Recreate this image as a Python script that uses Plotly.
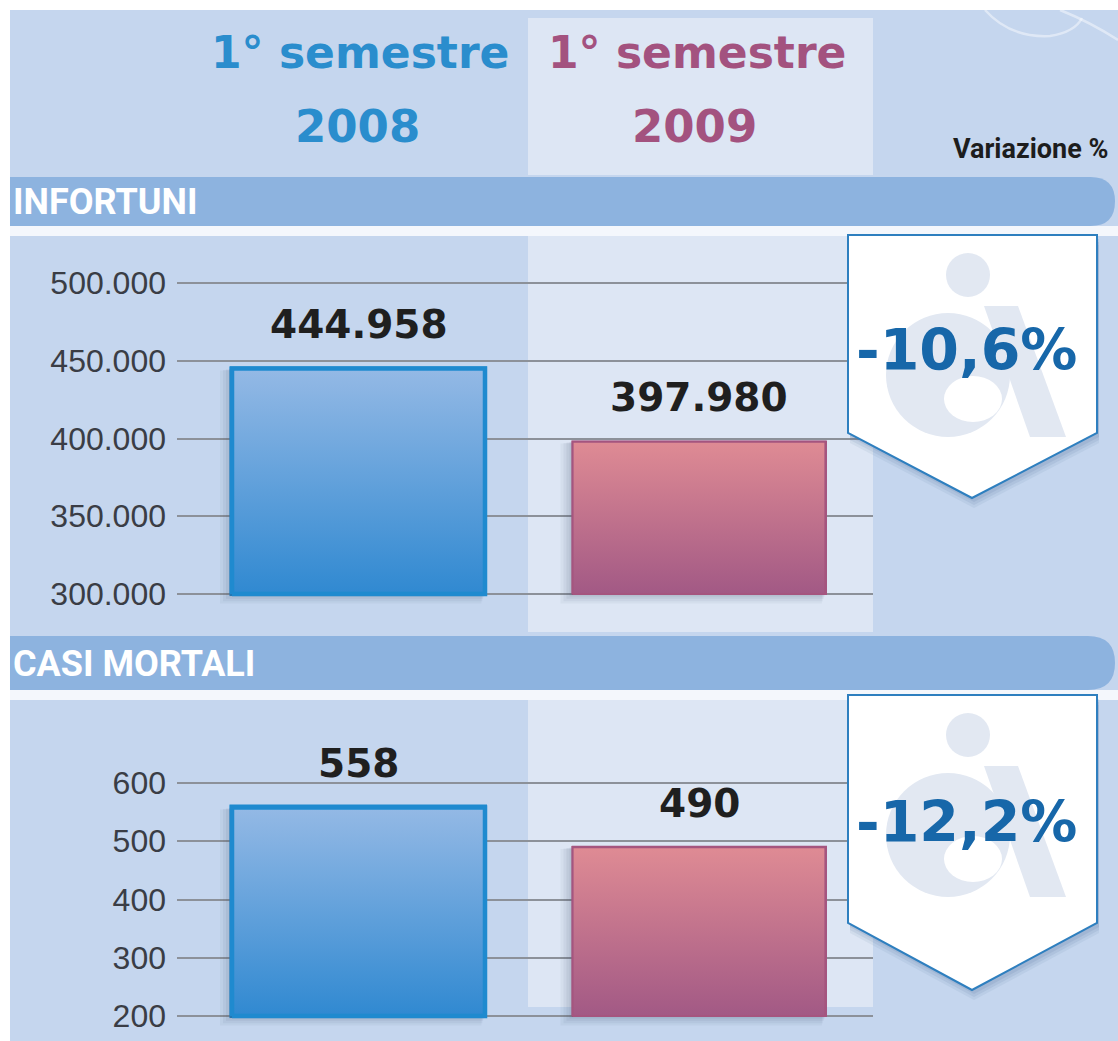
import plotly.graph_objects as go

# ---------------- data ----------------
years = ["2008", "2009"]
header_line = "1° semestre"
infortuni = [444958, 397980]
casi_mortali = [558, 490]
infortuni_ticks = [300000, 350000, 400000, 450000, 500000]
mortali_ticks = [200, 300, 400, 500, 600]
section_titles = ["INFORTUNI", "CASI MORTALI"]
variation_title = "Variazione %"

# ---------------- layout helpers (pixel -> paper) ----------------
W, H = 1118, 1041


def px(x):
    return x / W


def py(y):
    return 1 - y / H


def pt(x, y):
    return f"{px(x):.5f},{py(y):.5f}"


def poly(points):
    return "M " + " L ".join(pt(x, y) for x, y in points) + " Z"


def lin(pix, v0, p0, v1, p1):
    return v0 + (pix - p0) * (v1 - v0) / (p1 - p0)


BLUE_TXT = "#2a8dcd"
PURPLE_TXT = "#a3527f"
BG = "#c5d6ee"
BAND = "#dde6f4"
SECTION = "#8db3df"
GRID = "#8c9199"
BAR_TOP = ["#94b9e5", "#df8b94"]
BAR_BOT = ["#3089d1", "#a25985"]
BAR_LINE = ["#1f8acf", "#a5557f"]
BAR_LW = [4.5, 2.2]
PCT_COLOR = "#1767a9"

# x mapping: category index 0 -> 358.5px, 1 -> 699px
x_dom = [px(177), px(873)]
unit = 340.5
x_rng = [(177 - 358.5) / unit, (873 - 358.5) / unit]
bar_w = 253 / unit

panels = [
    dict(values=infortuni, ticks=infortuni_ticks, top=236, bot=632,
         ref=(infortuni_ticks[0], 594, infortuni_ticks[-1], 283)),
    dict(values=casi_mortali, ticks=mortali_ticks, top=700, bot=1036,
         ref=(mortali_ticks[0], 1016, mortali_ticks[-1], 783)),
]

fig = go.Figure()
annotations = []
shapes = []

for k, p in enumerate(panels):
    v0, p0, v1, p1 = p["ref"]
    y_rng = [lin(p["bot"], v0, p0, v1, p1), lin(p["top"], v0, p0, v1, p1)]
    vpp = (v1 - v0) / (p0 - p1)  # value units per pixel
    base = p["ticks"][0]
    xa = "x" if k == 0 else "x2"
    ya = "y" if k == 0 else "y2"
    # soft shadows (derived from the bar geometry)
    for i, v in enumerate(p["values"]):
        for off, alpha in [(12, 0.05), (9, 0.06), (6, 0.07), (3, 0.08)]:
            dx = off / unit
            dy = off * 0.8 * vpp
            xs = [i - bar_w / 2 - dx, i + bar_w / 2 - dx * 0.3, i + bar_w / 2 - dx * 0.3,
                  i - bar_w / 2 - dx, i - bar_w / 2 - dx]
            ys = [base - dy, base - dy, v - dy * 0.2, v - dy * 0.2, base - dy]
            fig.add_trace(go.Scatter(
                x=xs, y=ys, mode="lines", fill="toself",
                fillcolor=f"rgba(50,70,100,{alpha})", line=dict(width=0),
                hoverinfo="skip", showlegend=False, xaxis=xa, yaxis=ya))
    for i, v in enumerate(p["values"]):
        xs = [i - bar_w / 2, i + bar_w / 2, i + bar_w / 2, i - bar_w / 2, i - bar_w / 2]
        ys = [base, base, v, v, base]
        fig.add_trace(go.Scatter(
            x=xs, y=ys, mode="lines", fill="toself",
            line=dict(width=BAR_LW[i], color=BAR_LINE[i]),
            fillgradient=dict(type="vertical",
                              colorscale=[[0, BAR_BOT[i]], [1, BAR_TOP[i]]]),
            hoverinfo="skip", showlegend=False, xaxis=xa, yaxis=ya))
    for i, v in enumerate(p["values"]):
        fig.add_trace(go.Bar(
            x=[i], y=[v - base], base=base, width=bar_w, name=years[i],
            marker=dict(color="rgba(0,0,0,0)",
                        line=dict(color=BAR_LINE[i], width=BAR_LW[i])),
            showlegend=False, xaxis=xa, yaxis=ya,
            customdata=[v], hovertemplate="%{customdata}<extra></extra>"))
    ax_common = dict(showgrid=True, gridcolor=GRID, gridwidth=2, zeroline=False,
                     showline=False, ticks="", fixedrange=True)
    fig.update_layout(**{
        ("xaxis" if k == 0 else "xaxis2"): dict(domain=x_dom, range=x_rng, showgrid=False,
                                                 zeroline=False, showticklabels=False,
                                                 anchor=ya, fixedrange=True),
        ("yaxis" if k == 0 else "yaxis2"): dict(
            domain=[py(p["bot"]), py(p["top"])], range=y_rng, tickvals=p["ticks"],
            tickformat=",d", anchor=xa, ticklabelstandoff=10,
            tickfont=dict(family="Liberation Sans, Arial", size=32, color="#3a3d45"),
            **ax_common),
    })
    for i, v in enumerate(p["values"]):
        annotations.append(dict(
            x=i, y=v, xref=xa, yref=ya, text=f"{v:,}".replace(",", "."),
            showarrow=False, yanchor="middle", yshift=44,
            font=dict(family="DejaVu Sans", size=39, color="#1f1f1f", weight="bold")))

# ---------------- background shapes ----------------
shapes.append(dict(type="rect", xref="paper", yref="paper", layer="below",
                   x0=px(10), x1=px(1118), y0=py(1041), y1=py(10),
                   fillcolor=BG, line=dict(width=0)))
for path in [
    f"M {pt(985, 10)} Q {pt(1010, 38)} {pt(1050, 36)} Q {pt(1075, 32)} {pt(1082, 18)}",
    f"M {pt(1060, 10)} Q {pt(1090, 22)} {pt(1118, 40)}",
]:
    shapes.append(dict(type="path", path=path, xref="paper", yref="paper", layer="below",
                       line=dict(color="rgba(255,255,255,0.45)", width=2.5)))
shapes.append(dict(type="rect", xref="paper", yref="paper", layer="below",
                   x0=px(528), x1=px(873), y0=py(175), y1=py(18),
                   fillcolor=BAND, line=dict(width=0)))
for (t, b) in [(177, 226), (636, 690)]:
    r = (b - t) / 2
    path = (f"M {pt(10, t)} L {pt(1115 - r, t)} Q {pt(1115, t)} {pt(1115, t + r)} "
            f"Q {pt(1115, b)} {pt(1115 - r, b)} L {pt(10, b)} Z")
    shapes.append(dict(type="path", path=path, xref="paper", yref="paper", layer="below",
                       fillcolor=SECTION, line=dict(width=0)))
for (t, b) in [(226, 236), (690, 700)]:
    shapes.append(dict(type="rect", xref="paper", yref="paper", layer="below",
                       x0=px(10), x1=px(1118), y0=py(b), y1=py(t),
                       fillcolor="#f4f7fc", line=dict(width=0)))
for (t, b) in [(236, 632), (700, 1007)]:
    shapes.append(dict(type="rect", xref="paper", yref="paper", layer="below",
                       x0=px(528), x1=px(873), y0=py(b), y1=py(t),
                       fillcolor=BAND, line=dict(width=0)))

# ---------------- badges ----------------
pct_values = [
    (infortuni[1] - infortuni[0]) / infortuni[0] * 100,
    (casi_mortali[1] - casi_mortali[0]) / casi_mortali[0] * 100,
]
badges = [dict(top=235, side=433, tip=498, text_y=350, dy=0),
          dict(top=695, side=923, tip=990, text_y=822, dy=460)]
for b, pct in zip(badges, pct_values):
    L, R, C = 848, 1097, 972
    for off, alpha in [(10, 0.08), (7, 0.1), (4, 0.12)]:
        shadow = [(L + 2, b["top"] + off), (R + 2, b["top"] + off), (R + 2, b["side"] + off),
                  (C + 2, b["tip"] + off), (L + 2, b["side"] + off)]
        shapes.append(dict(type="path", path=poly(shadow), xref="paper", yref="paper",
                           layer="above", fillcolor=f"rgba(70,100,145,{alpha})",
                           line=dict(width=0)))
    outline = [(L, b["top"]), (R, b["top"]), (R, b["side"]), (C, b["tip"]), (L, b["side"])]
    shapes.append(dict(type="path", path=poly(outline), xref="paper", yref="paper",
                       layer="above", fillcolor="white", line=dict(color="#2e7fbf", width=2)))
    d = b["dy"]
    wm = "#e2e8f2"
    shapes.append(dict(type="circle", xref="paper", yref="paper", layer="above",
                       x0=px(946), x1=px(990), y0=py(297 + d), y1=py(253 + d),
                       fillcolor=wm, line=dict(width=0)))
    shapes.append(dict(type="circle", xref="paper", yref="paper", layer="above",
                       x0=px(886), x1=px(1010), y0=py(437 + d), y1=py(313 + d),
                       fillcolor=wm, line=dict(width=0)))
    shapes.append(dict(type="circle", xref="paper", yref="paper", layer="above",
                       x0=px(944), x1=px(1002), y0=py(422 + d), y1=py(376 + d),
                       fillcolor="white", line=dict(width=0)))
    shapes.append(dict(type="path", xref="paper", yref="paper", layer="above",
                       path=poly([(984, 306 + d), (1018, 306 + d), (1066, 437 + d), (1030, 437 + d)]),
                       fillcolor=wm, line=dict(width=0)))
    annotations.append(dict(
        x=px(966), y=py(b["text_y"]), xref="paper", yref="paper",
        text=f"{pct:.1f}".replace(".", ",") + "%", showarrow=False,
        xanchor="center", yanchor="middle",
        font=dict(family="DejaVu Sans", size=57, color=PCT_COLOR, weight="bold")))

# ---------------- header texts ----------------
for x_c, yr, col in [(360, years[0], BLUE_TXT), (697, years[1], PURPLE_TXT)]:
    annotations.append(dict(x=px(x_c), y=py(52), xref="paper", yref="paper",
                            text=header_line, showarrow=False, xanchor="center",
                            yanchor="middle",
                            font=dict(family="DejaVu Sans", size=44, color=col, weight="bold")))
    annotations.append(dict(x=px(x_c - 3), y=py(127), xref="paper", yref="paper",
                            text=yr, showarrow=False, xanchor="center", yanchor="middle",
                            font=dict(family="DejaVu Sans", size=45, color=col, weight="bold")))
annotations.append(dict(x=px(1110), y=py(149), xref="paper", yref="paper",
                        text=variation_title, showarrow=False, xanchor="right",
                        yanchor="middle",
                        font=dict(family="Roboto, Liberation Sans", size=27,
                                  color="#1d1d1d", weight="bold")))
for title, yc in zip(section_titles, [202, 664]):
    annotations.append(dict(x=px(11), y=py(yc), xref="paper", yref="paper",
                            text=title, showarrow=False, xanchor="left", yanchor="middle",
                            font=dict(family="Roboto, Liberation Sans", size=36,
                                      color="white", weight="bold")))

fig.update_layout(
    width=W, height=H, margin=dict(l=0, r=0, t=0, b=0),
    paper_bgcolor="white", plot_bgcolor="rgba(0,0,0,0)",
    separators=",.", showlegend=False, bargap=0, barmode="overlay",
    shapes=shapes, annotations=annotations,
)

fig.write_html(
    "out.html",
    config={"displayModeBar": False},
    post_script="document.body.style.margin='0px';document.body.style.overflow='hidden';",
)
